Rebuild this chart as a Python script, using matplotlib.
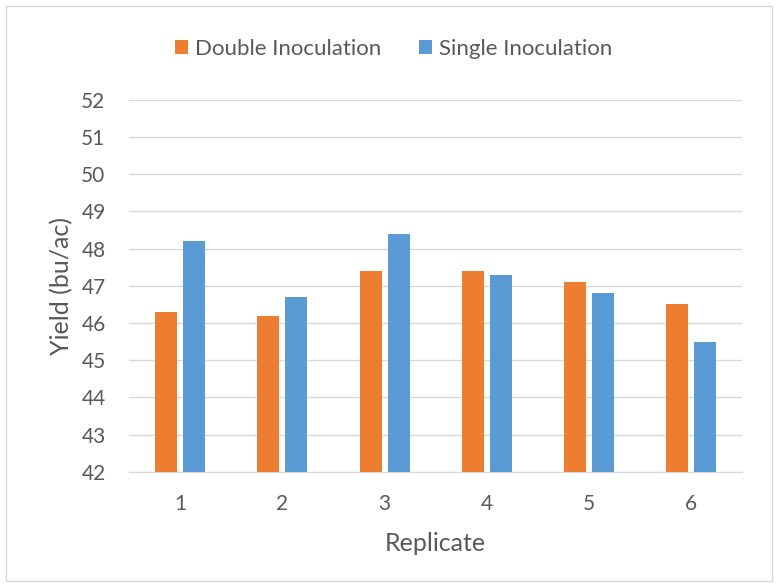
import numpy as np
import matplotlib
matplotlib.use("Agg")
import matplotlib.pyplot as plt
from matplotlib.patches import Rectangle

plt.rcParams['font.family'] = ['Lato', 'DejaVu Sans']

replicados = ['1', '2', '3', '4', '5', '6']
doble = [46.3, 46.2, 47.4, 47.4, 47.1, 46.5]
simple = [48.2, 46.7, 48.4, 47.3, 46.8, 45.5]

naranja = '#ED7D31'
azul = '#5B9BD5'
gris = '#595959'

fig = plt.figure(figsize=(7.78, 5.84), dpi=100)
ax = fig.add_axes([0.166, 0.192, 0.788, 0.637])

# marco de la figura
fig.patches.append(Rectangle((0.008, 0.005), 0.984, 0.985, transform=fig.transFigure,
                             fill=False, edgecolor='#D9D9D9', linewidth=1))

x = np.arange(len(replicados))
ancho = 0.216
ax.bar(x - 0.137, [v - 42 for v in doble], ancho, bottom=42, color=naranja,
       label='Double Inoculation', zorder=3)
ax.bar(x + 0.137, [v - 42 for v in simple], ancho, bottom=42, color=azul,
       label='Single Inoculation', zorder=3)

ax.set_xlim(-0.5, len(replicados) - 0.5)
ax.set_ylim(42, 52)
ax.set_yticks(range(42, 53))
ax.set_xticks(x)
ax.set_xticklabels(replicados)
ax.grid(axis='y', color='#D9D9D9', linewidth=1, zorder=0)
for s in ['top', 'right', 'left']:
    ax.spines[s].set_visible(False)
ax.spines['bottom'].set_color('#D9D9D9')
ax.tick_params(axis='both', length=0, labelsize=15, colors=gris)
ax.tick_params(axis='y', pad=17)
ax.tick_params(axis='x', pad=16)

ax.set_xlabel('Replicate', fontsize=18, color=gris, labelpad=13)
ax.set_ylabel('Yield (bu/ac)', fontsize=18, color=gris, labelpad=6)

fig.legend(loc='center', bbox_to_anchor=(0.506, 0.916), ncol=2, frameon=False,
           fontsize=16, labelcolor=gris, handlelength=0.6, handleheight=0.6,
           handletextpad=0.3, columnspacing=1.7)

fig.savefig('out.png', dpi=100)
